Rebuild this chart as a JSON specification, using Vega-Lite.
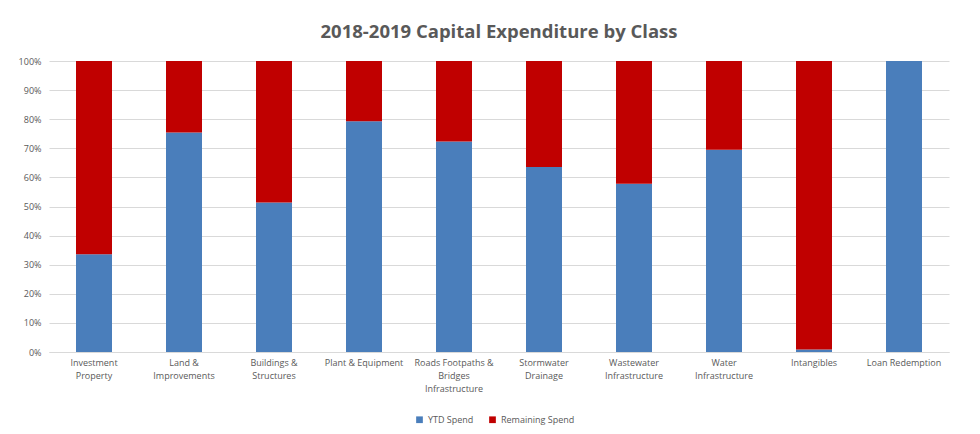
{
  "$schema": "https://vega.github.io/schema/vega-lite/v6.json",
  "autosize": "none",
  "width": 900,
  "height": 291,
  "padding": {"left": 49, "top": 61, "right": 31, "bottom": 82},
  "background": "white",
  "title": {
    "text": "2018-2019 Capital Expenditure by Class",
    "font": "Open Sans",
    "fontSize": 18.5,
    "fontWeight": "bold",
    "color": "#595959",
    "anchor": "middle",
    "offset": 16
  },
  "data": {
    "values": [
      {"category": "Investment\nProperty", "series": "YTD Spend", "value": 0.336},
      {"category": "Investment\nProperty", "series": "Remaining Spend", "value": 0.664},
      {"category": "Land &\nImprovements", "series": "YTD Spend", "value": 0.754},
      {"category": "Land &\nImprovements", "series": "Remaining Spend", "value": 0.246},
      {"category": "Buildings &\nStructures", "series": "YTD Spend", "value": 0.514},
      {"category": "Buildings &\nStructures", "series": "Remaining Spend", "value": 0.486},
      {"category": "Plant & Equipment", "series": "YTD Spend", "value": 0.793},
      {"category": "Plant & Equipment", "series": "Remaining Spend", "value": 0.207},
      {"category": "Roads Footpaths &\nBridges\nInfrastructure", "series": "YTD Spend", "value": 0.723},
      {"category": "Roads Footpaths &\nBridges\nInfrastructure", "series": "Remaining Spend", "value": 0.277},
      {"category": "Stormwater\nDrainage", "series": "YTD Spend", "value": 0.636},
      {"category": "Stormwater\nDrainage", "series": "Remaining Spend", "value": 0.364},
      {"category": "Wastewater\nInfrastructure", "series": "YTD Spend", "value": 0.578},
      {"category": "Wastewater\nInfrastructure", "series": "Remaining Spend", "value": 0.422},
      {"category": "Water\nInfrastructure", "series": "YTD Spend", "value": 0.695},
      {"category": "Water\nInfrastructure", "series": "Remaining Spend", "value": 0.305},
      {"category": "Intangibles", "series": "YTD Spend", "value": 0.009},
      {"category": "Intangibles", "series": "Remaining Spend", "value": 0.991},
      {"category": "Loan Redemption", "series": "YTD Spend", "value": 1.0},
      {"category": "Loan Redemption", "series": "Remaining Spend", "value": 0.0}
    ]
  },
  "mark": {"type": "bar"},
  "encoding": {
    "x": {
      "field": "category",
      "type": "nominal",
      "sort": null,
      "scale": {"paddingInner": 0.6, "paddingOuter": 0.3},
      "axis": {
        "title": null,
        "labelAngle": 0,
        "labelExpr": "split(datum.label, '\\n')",
        "labelFont": "Open Sans",
        "labelFontSize": 9,
        "labelColor": "#595959",
        "labelLineHeight": 13,
        "labelPadding": 6,
        "ticks": false,
        "domainColor": "#d9d9d9",
        "labelLimit": 200
      }
    },
    "y": {
      "field": "value",
      "type": "quantitative",
      "stack": "zero",
      "scale": {"domain": [0, 1], "nice": false},
      "axis": {
        "title": null,
        "format": ".0%",
        "values": [0, 0.1, 0.2, 0.3, 0.4, 0.5, 0.6, 0.7, 0.8, 0.9, 1.0],
        "labelOverlap": false,
        "labelFont": "Open Sans",
        "labelFontSize": 9,
        "labelColor": "#595959",
        "ticks": false,
        "domain": false,
        "gridColor": "#d9d9d9",
        "labelPadding": 8
      }
    },
    "color": {
      "field": "series",
      "type": "nominal",
      "scale": {"domain": ["YTD Spend", "Remaining Spend"], "range": ["#4a7ebb", "#c00000"]},
      "legend": {
        "title": null,
        "orient": "none",
        "legendX": 366,
        "legendY": 354,
        "direction": "horizontal",
        "symbolType": "square",
        "symbolSize": 45,
        "symbolStrokeWidth": 0,
        "labelFont": "Open Sans",
        "labelFontSize": 9,
        "labelColor": "#595959",
        "columnPadding": 14
      }
    },
    "order": {"field": "series", "sort": "descending"}
  },
  "config": {
    "view": {"stroke": null},
    "axisX": {"grid": false}
  }
}
